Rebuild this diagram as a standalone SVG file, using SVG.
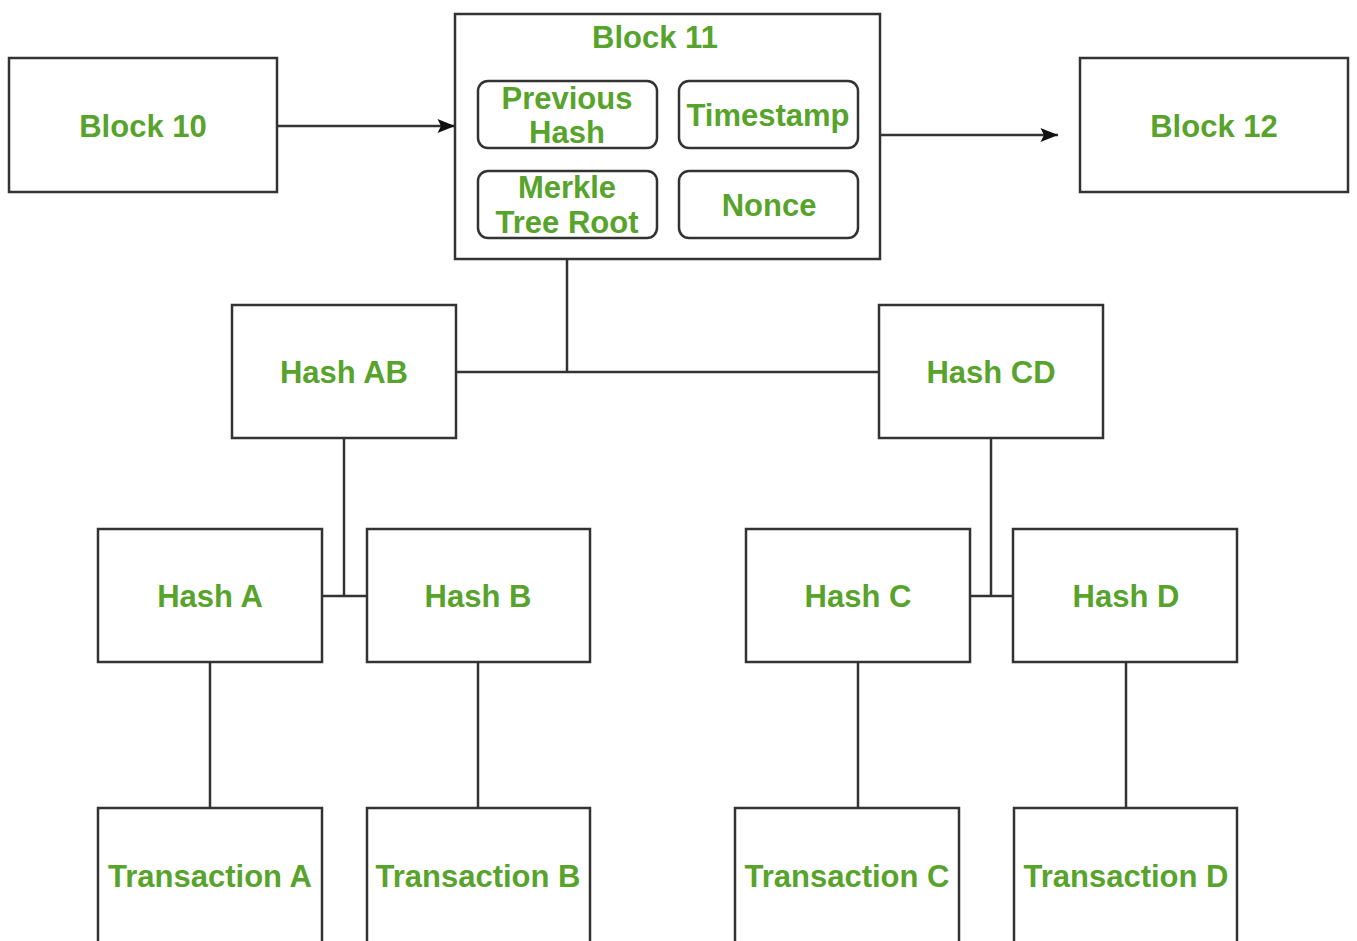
<svg xmlns="http://www.w3.org/2000/svg" width="1357" height="941" viewBox="0 0 1357 941">
<defs>
<style>
.box{fill:#fff;stroke:#333;stroke-width:2.5}
.rbox{fill:#fff;stroke:#333;stroke-width:2.5}
.t{font-family:"Liberation Sans",Arial,sans-serif;font-weight:bold;font-size:31px;fill:#57a32b;text-anchor:middle;dominant-baseline:central}
.ts{font-size:31px}
.c{fill:none;stroke:#333;stroke-width:2.5}
</style>
<marker id="ah2" viewBox="0 0 20 16" refX="20" refY="8" markerWidth="18" markerHeight="14" markerUnits="userSpaceOnUse" orient="auto">
<path d="M0,0 L20,8 L0,16 L4,8 Z" fill="#111"/>
</marker>
</defs>
<rect width="1357" height="941" fill="#fff"/>
<g id="connectors">
<line class="c" x1="277" y1="126" x2="455" y2="126" marker-end="url(#ah2)"/>
<line class="c" x1="880" y1="135" x2="1058" y2="135" marker-end="url(#ah2)"/>
<polyline class="c" points="567,238 567,372"/>
<line class="c" x1="456" y1="372" x2="879" y2="372"/>
<polyline class="c" points="344,438 344,596"/>
<line class="c" x1="322" y1="596" x2="367" y2="596"/>
<polyline class="c" points="991,438 991,596"/>
<line class="c" x1="970" y1="596" x2="1013" y2="596"/>
<line class="c" x1="210" y1="662" x2="210" y2="808"/>
<line class="c" x1="478" y1="662" x2="478" y2="808"/>
<line class="c" x1="858" y1="662" x2="858" y2="808"/>
<line class="c" x1="1126" y1="662" x2="1126" y2="808"/>
</g>
<g id="block10"><rect class="box" x="9" y="58" width="268" height="134"/><text class="t" x="143" y="126">Block 10</text></g>
<g id="block11">
<rect class="box" x="455" y="14" width="425" height="245"/>
<text class="t" x="655" y="37">Block 11</text>
</g>
<g id="prevhash"><rect class="rbox" x="478" y="81" width="179" height="67" rx="10"/><text class="t ts" x="567" y="98">Previous</text><text class="t ts" x="567" y="132">Hash</text></g>
<g id="timestamp"><rect class="rbox" x="679" y="81" width="179" height="67" rx="10"/><text class="t ts" x="768" y="115">Timestamp</text></g>
<g id="merkle"><rect class="rbox" x="478" y="171" width="179" height="67" rx="10"/><text class="t ts" x="567" y="187">Merkle</text><text class="t ts" x="567" y="222">Tree Root</text></g>
<g id="nonce"><rect class="rbox" x="679" y="171" width="179" height="67" rx="10"/><text class="t ts" x="769" y="205">Nonce</text></g>
<g id="block12"><rect class="box" x="1080" y="58" width="268" height="134"/><text class="t" x="1214" y="126">Block 12</text></g>
<g id="hashAB"><rect class="box" x="232" y="305" width="224" height="133"/><text class="t" x="344" y="372">Hash AB</text></g>
<g id="hashCD"><rect class="box" x="879" y="305" width="224" height="133"/><text class="t" x="991" y="372">Hash CD</text></g>
<g id="hashA"><rect class="box" x="98" y="529" width="224" height="133"/><text class="t" x="210" y="596">Hash A</text></g>
<g id="hashB"><rect class="box" x="367" y="529" width="223" height="133"/><text class="t" x="478" y="596">Hash B</text></g>
<g id="hashC"><rect class="box" x="746" y="529" width="224" height="133"/><text class="t" x="858" y="596">Hash C</text></g>
<g id="hashD"><rect class="box" x="1013" y="529" width="224" height="133"/><text class="t" x="1126" y="596">Hash D</text></g>
<g id="txA"><rect class="box" x="98" y="808" width="224" height="150"/><text class="t" x="210" y="876">Transaction A</text></g>
<g id="txB"><rect class="box" x="367" y="808" width="223" height="150"/><text class="t" x="478" y="876">Transaction B</text></g>
<g id="txC"><rect class="box" x="735" y="808" width="224" height="150"/><text class="t" x="847" y="876">Transaction C</text></g>
<g id="txD"><rect class="box" x="1014" y="808" width="223" height="150"/><text class="t" x="1126" y="876">Transaction D</text></g>
</svg>
